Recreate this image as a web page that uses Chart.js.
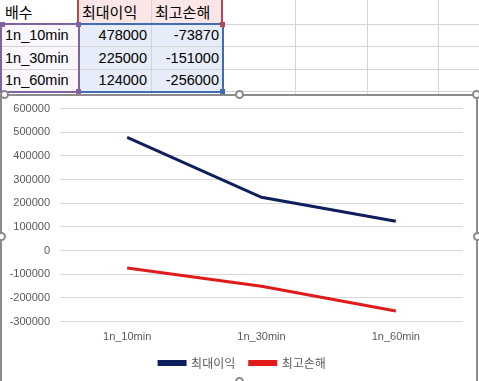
<!DOCTYPE html>
<html>
<head>
<meta charset="utf-8">
<script src="https://cdn.jsdelivr.net/npm/chart.js@4.4.1/dist/chart.umd.min.js"></script>
<style>
  html, body { margin:0; padding:0; background:#fff; width:479px; height:381px; overflow:hidden; }
  body { position:relative; font-family:"Liberation Sans","Noto Sans CJK KR",sans-serif; }
  .vl { position:absolute; top:0; height:95px; width:1px; background:#d4d4d4; }
  .hl { position:absolute; left:0; width:479px; height:1px; background:#d4d4d4; }
  .cell { position:absolute; height:22px; line-height:22px; font-size:14.5px; color:#000; white-space:nowrap; }
  .ko { font-family:"Noto Sans CJK KR",sans-serif; font-size:15px; }
  .sq { position:absolute; width:5px; height:5px; }
  .circ { position:absolute; width:9px; height:9px; border-radius:50%; background:#fff; border:2px solid #8a8a8a; box-sizing:border-box; }
  #box { position:absolute; left:0; top:94px; width:478px; height:300px; border:2px solid #8c8c8c; box-sizing:border-box; background:#fff; }
  #wrap { position:absolute; left:2px; top:92px; width:474px; height:295px; }
  #c { display:block; }
</style>
</head>
<body>
<div id="sheet"></div>
<div id="box"></div>
<div id="wrap"><canvas id="c" width="474" height="295"></canvas></div>
<div id="handles"></div>
<script>
// ---- data ----
const headerLabel = "배수";
const seriesNames = ["최대이익", "최고손해"];
const categories = ["1n_10min", "1n_30min", "1n_60min"];
const maxProfit = [478000, 225000, 124000];
const maxLoss = [-73870, -151000, -256000];
const yMin = -300000, yMax = 600000, yStep = 100000;

// ---- spreadsheet background ----
const sheet = document.getElementById('sheet');
const colX = [78, 151, 222, 295, 367, 438];
const rowY = [24, 46, 69, 91];
function add(html){ sheet.insertAdjacentHTML('beforeend', html); }
add('<div style="position:absolute;left:79px;top:0;width:143px;height:24px;background:#fae6e6"></div>');
add('<div style="position:absolute;left:79px;top:25px;width:143px;height:66px;background:#e6edf8"></div>');
add('<div style="position:absolute;left:2px;top:25px;width:76px;height:66px;background:#f9f7fc"></div>');
colX.forEach(x => add(`<div class="vl" style="left:${x}px"></div>`));
rowY.forEach(y => add(`<div class="hl" style="top:${y}px"></div>`));
const rowsTop = [1, 24, 47, 69];
add(`<div class="cell ko" style="left:5px;top:${rowsTop[0]}px">${headerLabel}</div>`);
add(`<div class="cell ko" style="left:82px;top:${rowsTop[0]}px">${seriesNames[0]}</div>`);
add(`<div class="cell ko" style="left:155px;top:${rowsTop[0]}px">${seriesNames[1]}</div>`);
categories.forEach((c,i) => {
  add(`<div class="cell" style="left:5px;top:${rowsTop[i+1]}px">${c}</div>`);
  add(`<div class="cell" style="left:79px;width:68px;text-align:right;top:${rowsTop[i+1]}px">${maxProfit[i]}</div>`);
  add(`<div class="cell" style="left:151px;width:68px;text-align:right;top:${rowsTop[i+1]}px">${maxLoss[i]}</div>`);
});
add('<div style="position:absolute;left:77px;top:0;width:146px;height:25px;border:2px solid #b8474b;border-top:none;box-sizing:border-box"></div>');
add('<div style="position:absolute;left:78px;top:23px;width:146px;height:70px;border:2px solid #3e6db5;box-sizing:border-box"></div>');
add('<div style="position:absolute;left:0;top:23px;width:80px;height:70px;border:2px solid #8064a2;box-sizing:border-box"></div>');
add('<div class="sq" style="left:76px;top:22px;background:#8064a2"></div>');
add('<div class="sq" style="left:0;top:22px;background:#8064a2"></div>');
add('<div class="sq" style="left:76px;top:89px;background:#8064a2"></div>');
add('<div class="sq" style="left:220px;top:22px;background:#b8474b"></div>');
add('<div class="sq" style="left:220px;top:89px;background:#3e6db5"></div>');

const hd = document.getElementById('handles');
[[0,90],[235,90],[472,90],[-3,232],[473,232],[235,377]].forEach(p=>{
  hd.insertAdjacentHTML('beforeend', `<div class="circ" style="left:${p[0]}px;top:${p[1]}px"></div>`);
});

// ---- chart ----
const tickColor = '#595959';
const legendShift = {
  id: 'legendShift',
  afterLayout(chart) { chart.legend.left += 10; chart.legend.right += 10; }
};
new Chart(document.getElementById('c'), {
  type: 'line',
  data: {
    labels: categories,
    datasets: [
      { label: seriesNames[0], data: maxProfit, borderColor: '#0e1f5b', backgroundColor: '#0e1f5b', borderWidth: 3, pointRadius: 0, tension: 0 },
      { label: seriesNames[1], data: maxLoss, borderColor: '#e01b1b', backgroundColor: '#e01b1b', borderWidth: 3, pointRadius: 0, tension: 0 }
    ]
  },
  plugins: [legendShift],
  options: {
    responsive: false,
    animation: false,
    layout: { autoPadding: false, padding: { top: 11, right: 13, bottom: 8, left: 0 } },
    plugins: {
      tooltip: { enabled: false },
      legend: {
        position: 'bottom',
        labels: {
          boxWidth: 26, boxHeight: 3, padding: 14.5, color: tickColor,
          font: { family: '"Noto Sans CJK KR", sans-serif', size: 12 }
        }
      }
    },
    scales: {
      x: {
        offset: true,
        grid: { display: false, drawTicks: false },
        border: { display: false },
        ticks: { color: tickColor, padding: 9, font: { family: '"Liberation Sans", sans-serif', size: 11 } },
        afterFit: s => { s.height = 21; }
      },
      y: {
        min: yMin, max: yMax,
        grid: { color: '#d9d9d9', drawTicks: false, tickLength: 0 },
        border: { display: false },
        ticks: { stepSize: yStep, color: tickColor, padding: 10, font: { family: '"Liberation Sans", sans-serif', size: 11 },
                 callback: v => String(v) },
        afterFit: s => { s.width = 58; }
      }
    }
  }
});
</script>
</body>
</html>
